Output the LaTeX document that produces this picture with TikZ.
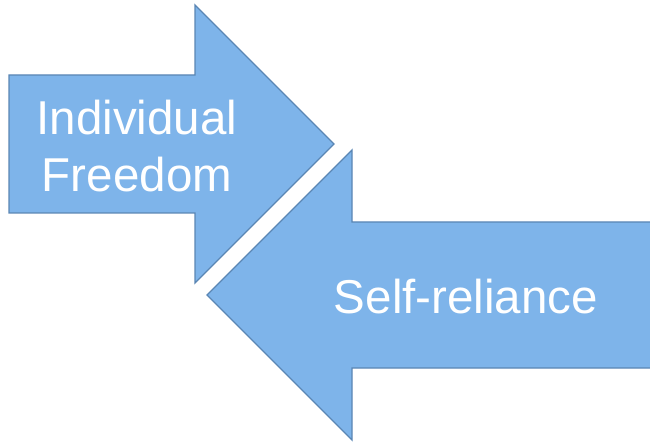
\documentclass[tikz,border=0pt]{standalone}
\usepackage{fontspec}
\setmainfont{Liberation Sans}
\definecolor{arrfill}{HTML}{7EB4EA}
\definecolor{arrline}{HTML}{5A86B4}
\begin{document}
\begin{tikzpicture}[x=1pt,y=-1pt,
  arrowshape/.style={fill=arrfill,draw=arrline,line width=1.4pt,line join=miter},
  lbl/.style={text=white,font=\fontsize{47.5}{57}\selectfont,align=center,inner sep=0pt}]
\useasboundingbox (0,0) rectangle (650,443);
\path[clip] (0,0) rectangle (650,443);
\draw[arrowshape] (9,75) -- (195,75) -- (195,5) -- (334,144) -- (195,283) -- (195,213) -- (9,213) -- cycle;
\draw[arrowshape] (651,222) -- (352,222) -- (352,150) -- (207,295) -- (352,440) -- (352,368) -- (651,368) -- cycle;
\node[lbl] (freedom) at (137,146) {Individual\\Freedom};
\node[lbl] (self) at (466,297) {Self-reliance};
\end{tikzpicture}
\end{document}
